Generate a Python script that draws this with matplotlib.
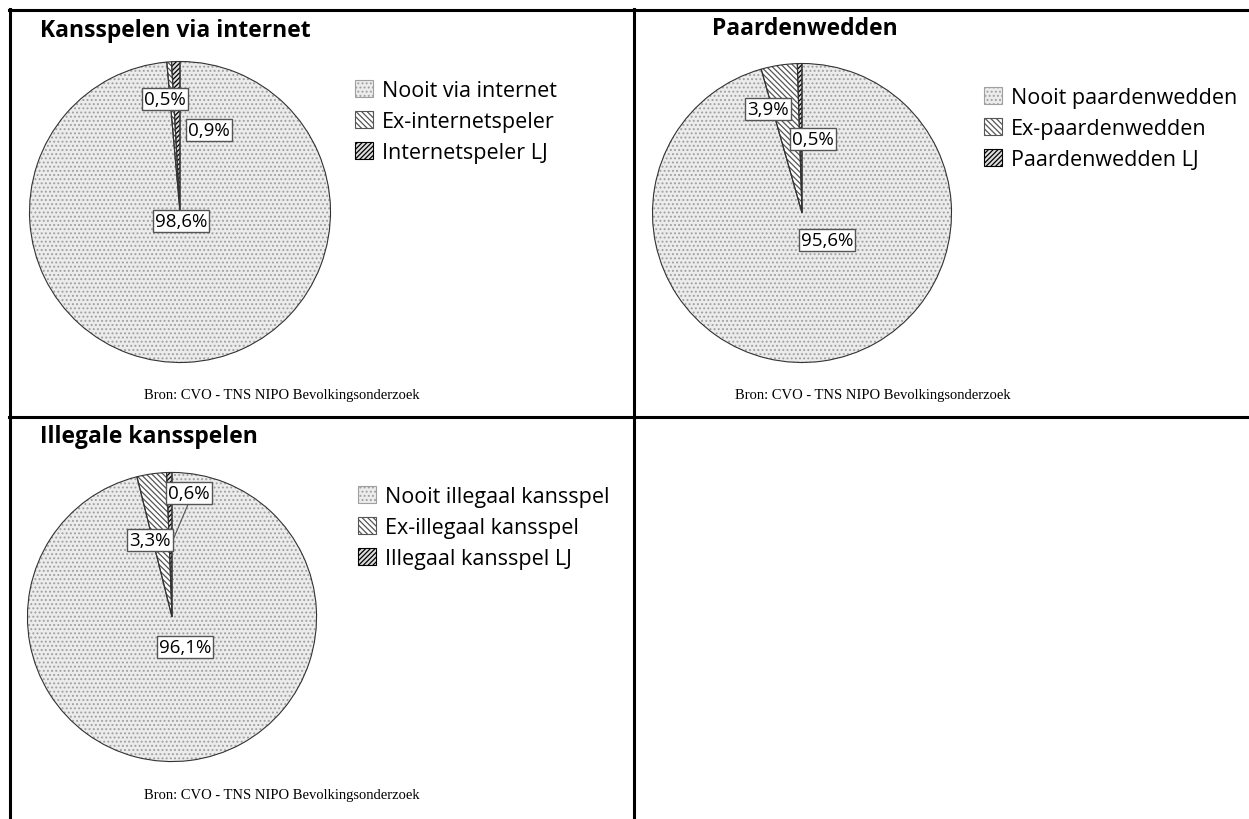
import matplotlib.pyplot as plt
from matplotlib.lines import Line2D
from matplotlib.patches import Patch

W, H = 1249, 820

titles = ["Kansspelen via internet", "Paardenwedden", "Illegale kansspelen"]
labels_1 = ["Nooit via internet", "Ex-internetspeler", "Internetspeler LJ"]
labels_2 = ["Nooit paardenwedden", "Ex-paardenwedden", "Paardenwedden LJ"]
labels_3 = ["Nooit illegaal kansspel", "Ex-illegaal kansspel", "Illegaal kansspel LJ"]
values_1 = [98.6, 0.5, 0.9]
values_2 = [95.6, 3.9, 0.5]
values_3 = [96.1, 3.3, 0.6]
pct_text_1 = ["98,6%", "0,5%", "0,9%"]
pct_text_2 = ["95,6%", "3,9%", "0,5%"]
pct_text_3 = ["96,1%", "3,3%", "0,6%"]
bron = "Bron: CVO - TNS NIPO Bevolkingsonderzoek"

# styles per category: facecolor, hatch, hatch colour
styles = [("#ececec", "....", "#a0a0a0"),
          ("white", "\\\\\\\\\\\\", "#555555"),
          ("#dddddd", "///////", "black")]

plt.rcParams['font.family'] = ['Open Sans', 'DejaVu Sans']
plt.rcParams['hatch.linewidth'] = 0.9

fig = plt.figure(figsize=(W / 100, H / 100), dpi=100)


def px(x, y):
    return x / W, 1 - y / H


# grid lines of the table
def hline(y, x0, x1):
    fig.add_artist(Line2D([x0 / W, x1 / W], [1 - y / H, 1 - y / H], color="black", lw=2.2))


def vline(x, y0, y1):
    fig.add_artist(Line2D([x / W, x / W], [1 - y0 / H, 1 - y1 / H], color="black", lw=2.2))


hline(11, 9, W)
hline(418, 9, W)
vline(10, 10, H)
vline(634, 10, H)

panels = [
    dict(values=values_1, labels=labels_1, pct=pct_text_1, title=titles[0],
         c=(180, 213), r=152, title_xy=(40, 31), leg_xy=(355, 81), bron_xy=(282, 396),
         pct_xy=[(181, 222), (165, 100), (209, 131)]),
    dict(values=values_2, labels=labels_2, pct=pct_text_2, title=titles[1],
         c=(802, 214), r=151, title_xy=(712, 29), leg_xy=(984, 88), bron_xy=(873, 396),
         pct_xy=[(827, 241), (768, 110), (813, 140)]),
    dict(values=values_3, labels=labels_3, pct=pct_text_3, title=titles[2],
         c=(172, 618), r=146, title_xy=(40, 437), leg_xy=(358, 487), bron_xy=(282, 796),
         pct_xy=[(185, 648), (150, 541), (189, 494)]),
]

for p in panels:
    cx, cy = p["c"]
    r = p["r"]
    ax = fig.add_axes([(cx - r) / W, 1 - (cy + r) / H, 2 * r / W, 2 * r / H])
    wedges, _ = ax.pie(p["values"], startangle=90, counterclock=False, radius=1)
    for w, (fc, hatch, hc) in zip(wedges, styles):
        w.set_facecolor(fc)
        w.set_hatch(hatch)
        w.set_edgecolor(hc)
        w.set_linewidth(0)
    outline, _ = ax.pie(p["values"], startangle=90, counterclock=False, radius=1,
                        wedgeprops=dict(fill=False, edgecolor="#333333", linewidth=0.8))
    ax.set_xlim(-1.01, 1.01)
    ax.set_ylim(-1.01, 1.01)
    ax.set_aspect("equal")
    ax.axis("off")

    for (tx, ty), t in zip(p["pct_xy"], p["pct"]):
        fig.text(*px(tx, ty), t, ha="center", va="center", fontsize=13.5,
                 bbox=dict(boxstyle="square,pad=0.12", fc="white", ec="#555555", lw=1))

    tx, ty = p["title_xy"]
    fig.text(*px(tx, ty), p["title"], ha="left", va="center", fontsize=16.5, fontweight="bold")

    bx, by = p["bron_xy"]
    fig.text(*px(bx, by), bron, ha="center", va="center", fontsize=10.5,
             family=["Liberation Serif", "DejaVu Serif"])

    handles = [Patch(facecolor=fc, hatch=h, edgecolor=hc) for fc, h, hc in styles]
    leg = fig.legend(handles, p["labels"], loc="upper left", bbox_to_anchor=px(*p["leg_xy"]),
                     frameon=False, fontsize=15.5, handlelength=0.85, handleheight=0.85,
                     handletextpad=0.4, labelspacing=0.46, borderaxespad=0, borderpad=0)
    for hp in leg.legend_handles:
        hp.set_linewidth(0.8)

# leader line in the third panel
fig.add_artist(Line2D([189 / W, 173 / W], [1 - 503 / H, 1 - 541 / H], color="#555555", lw=0.8))

fig.savefig("out.png", dpi=100)
